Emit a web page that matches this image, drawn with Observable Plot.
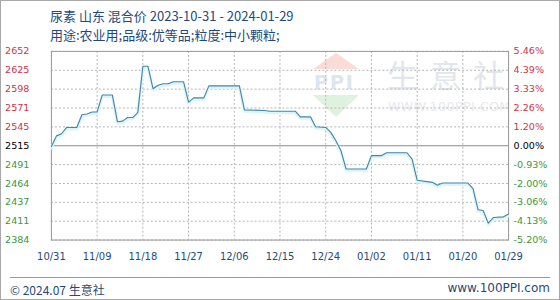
<!DOCTYPE html>
<html>
<head>
<meta charset="utf-8">
<script src="https://cdn.jsdelivr.net/npm/d3@7"></script>
<script src="https://cdn.jsdelivr.net/npm/@observablehq/plot@0.6"></script>
<style>
  html, body { margin: 0; padding: 0; background: #fff; }
  #wrap { position: relative; width: 560px; height: 300px; box-sizing: border-box; border: 1px solid #a8a8a8; overflow: hidden; font-family: "Noto Sans CJK SC", "DejaVu Sans", sans-serif; }
  .t { position: absolute; white-space: nowrap; color: #1f4a78; }
  #chart { position: absolute; left: -1px; top: -1px; }
  .wm { position: absolute; white-space: nowrap; }
</style>
</head>
<body>
<div id="wrap">
  <div class="wm" style="left:312px;top:52px;width:0;height:0;border-left:23px solid transparent;border-right:23px solid transparent;border-bottom:16px solid #f8dcd5;"></div>
  <div class="wm" style="left:313px;top:70px;font:bold 19px 'DejaVu Sans';color:#dde5f0;letter-spacing:2px;">PPI</div>
  <div class="wm" style="left:312px;top:94px;width:0;height:0;border-left:23px solid transparent;border-right:23px solid transparent;border-top:22px solid #dff1df;"></div>
  <div class="wm" style="left:386px;top:50px;font-size:31px;color:#e2e6ec;letter-spacing:12px;font-family:'Noto Sans CJK SC';">生意社</div>
  <div class="wm" style="left:387px;top:98px;font-size:12.5px;color:#e6e8ec;letter-spacing:0.5px;font-family:'DejaVu Sans';">WWW.100PPI.COM</div>
  <div id="chart"></div>
  <div class="t" id="title" style="left:49px;top:5px;font-size:13px;"></div>
  <div class="t" id="subtitle" style="left:49px;top:24px;font-size:13px;"></div>
  <div style="position:absolute;left:9px;top:276px;width:540px;height:0;border-top:1px solid #9a9a9a;"></div>
  <div class="t" id="foot1" style="left:9px;top:280px;font-size:12px;"></div>
  <div class="t" id="foot2" style="right:9px;top:280px;font-size:12px;font-family:'DejaVu Sans';"></div>
</div>
<script>
const titleText = "尿素 山东 混合价 2023-10-31 - 2024-01-29";
const subtitleText = "用途:农业用;品级:优等品;粒度:中小颗粒;";
const footLeft = "© 2024.07 生意社";
const footRight = "www.100PPI.com";

const dates = [
  "2023-10-31","2023-11-01","2023-11-02","2023-11-03","2023-11-05","2023-11-06","2023-11-07","2023-11-08",
  "2023-11-09","2023-11-10","2023-11-12","2023-11-13","2023-11-14","2023-11-15","2023-11-16","2023-11-17",
  "2023-11-18","2023-11-19","2023-11-20","2023-11-21","2023-11-22","2023-11-23","2023-11-24","2023-11-26",
  "2023-11-27","2023-11-28","2023-11-30","2023-12-01","2023-12-07","2023-12-08","2023-12-12","2023-12-13",
  "2023-12-15","2023-12-18","2023-12-19","2023-12-21","2023-12-22","2023-12-24","2023-12-25","2023-12-26",
  "2023-12-27","2023-12-28","2024-01-01","2024-01-02","2024-01-04","2024-01-05","2024-01-09","2024-01-10",
  "2024-01-11","2024-01-14","2024-01-15","2024-01-16","2024-01-21","2024-01-22","2024-01-23","2024-01-24",
  "2024-01-25","2024-01-26","2024-01-28","2024-01-29"
];
const prices = [
  2517, 2532, 2535, 2544, 2544, 2562, 2563, 2566,
  2566, 2590, 2590, 2552, 2553, 2558, 2558, 2565,
  2631, 2631, 2599, 2604, 2606, 2606, 2609, 2609,
  2580, 2586, 2586, 2603, 2603, 2569, 2568, 2567,
  2567, 2567, 2559, 2559, 2545, 2544, 2537, 2525,
  2511, 2485, 2485, 2504, 2504, 2508, 2508, 2499,
  2469, 2466, 2462, 2465, 2465, 2457, 2427, 2426,
  2408, 2416, 2417, 2421
];

const xTickDates = ["2023-10-31","2023-11-09","2023-11-18","2023-11-27","2023-12-06","2023-12-15","2023-12-24","2024-01-02","2024-01-11","2024-01-20","2024-01-29"];
const yTickValues = [2384, 2410.8, 2437.6, 2464.4, 2491.2, 2518, 2544.8, 2571.6, 2598.4, 2625.2, 2652];
const yTickLabels = ["2384","2411","2437","2464","2491","2515","2545","2571","2598","2625","2652"];
const pctTickLabels = ["-5.20%","-4.13%","-3.06%","-2.00%","-0.93%","0.00%","1.20%","2.26%","3.33%","4.39%","5.46%"];

document.getElementById("title").textContent = titleText;
document.getElementById("subtitle").textContent = subtitleText;
document.getElementById("foot1").textContent = footLeft;
document.getElementById("foot2").textContent = footRight;

const parse = d3.utcParse("%Y-%m-%d");
const data = dates.map((d, i) => ({date: parse(d), value: prices[i]}));
const xTicks = xTickDates.map(parse);
const fmtX = d3.utcFormat("%m/%d");
const baseIdx = 5;
const baseTick = yTickValues[baseIdx];
const upTicks = yTickValues.filter((v, i) => i > baseIdx);
const downTicks = yTickValues.filter((v, i) => i < baseIdx);
const leftLab = d => yTickLabels[yTickValues.indexOf(d)];
const rightLab = d => pctTickLabels[yTickValues.indexOf(d)];

const red = "#c8374a", green = "#3e963e", axisFont = 9.6;
const axisCommon = {tickSize: 0, fontSize: axisFont, label: null};

const chart = Plot.plot({
  width: 560, height: 272,
  marginTop: 51, marginBottom: 32, marginLeft: 51, marginRight: 51,
  x: {type: "utc", domain: [parse(dates[0]), parse(dates[dates.length - 1])], label: null},
  y: {domain: [2384, 2652], label: null},
  style: {background: "transparent", fontFamily: "DejaVu Sans", overflow: "visible"},
  marks: [
    Plot.gridY(yTickValues.filter((v, i) => i !== baseIdx), {stroke: "#b4b4b4", strokeOpacity: 1, strokeDasharray: "2,2"}),
    Plot.gridX(xTicks, {stroke: "#b4b4b4", strokeOpacity: 1, strokeDasharray: "2,2"}),
    Plot.ruleY([baseTick], {stroke: "#8a8a8a", strokeWidth: 1.2}),
    Plot.frame({stroke: "#9a9a9a"}),
    Plot.lineY(data, {x: "date", y: "value", stroke: "#dcf5fb", strokeWidth: 3, dy: 1.5}),
    Plot.lineY(data, {x: "date", y: "value", stroke: "#4384a8", strokeWidth: 1.1}),
    Plot.axisX(xTicks, {...axisCommon, fontSize: 10, tickPadding: 13, tickFormat: fmtX, fill: "#1f4a78"}),
    Plot.axisY(upTicks, {...axisCommon, anchor: "left", tickPadding: 22, tickFormat: leftLab, fill: red}),
    Plot.axisY([baseTick], {...axisCommon, anchor: "left", tickPadding: 22, tickFormat: leftLab, fill: "#000"}),
    Plot.axisY(downTicks, {...axisCommon, anchor: "left", tickPadding: 22, tickFormat: leftLab, fill: green}),
    Plot.axisY(upTicks, {...axisCommon, anchor: "right", tickPadding: 5, tickFormat: rightLab, fill: red}),
    Plot.axisY([baseTick], {...axisCommon, anchor: "right", tickPadding: 5, tickFormat: rightLab, fill: "#000"}),
    Plot.axisY(downTicks, {...axisCommon, anchor: "right", tickPadding: 5, tickFormat: rightLab, fill: green})
  ]
});
document.getElementById("chart").appendChild(chart);
</script>
</body>
</html>
